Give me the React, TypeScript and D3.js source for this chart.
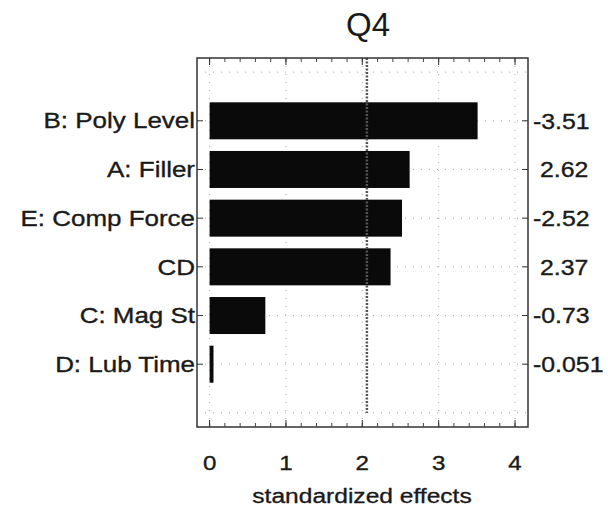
import React from "react";
import * as d3 from "d3";

const categories = ["B: Poly Level", "A: Filler", "E: Comp Force", "CD", "C: Mag St", "D: Lub Time"];
const effects = [3.51, 2.62, 2.52, 2.37, 0.73, 0.051];
const effectLabels = ["-3.51", " 2.62", "-2.52", " 2.37", "-0.73", "-0.051"];
const xTicks = [0, 1, 2, 3, 4];
const criticalValue = 2.06;
const title = "Q4";
const xTitle = "standardized effects";

function SText(props: { x: number; y: number; sx: number; size: number; anchor: string; children: any; dy?: string }) {
  return (
    <text
      transform={`translate(${props.x},${props.y}) scale(${props.sx},1)`}
      dy={props.dy || "0"}
      textAnchor={props.anchor}
      fontSize={props.size}
      fill="#1a1a1a"
      stroke="#1a1a1a"
      strokeWidth={0.35}
      style={{ whiteSpace: "pre" }}
    >
      {props.children}
    </text>
  );
}

export default function App() {
  const left = 197, right = 528, top = 58, bottom = 427;
  const x = d3.scaleLinear().domain([-0.165, 4.17]).range([left, right]);
  const y = d3.scaleLinear().domain([-0.29, 7.29]).range([top, bottom]);
  const barH = y(0.38) - y(0);
  const minor = d3.range(0, 4.01, 0.2);
  const gridY = d3.range(0, 8);
  const font = "Liberation Sans, Arial, sans-serif";
  return (
    <svg width={608} height={512} style={{ position: "absolute", left: 0, top: 0, display: "block" }} fontFamily={font}>
      <rect x={0} y={0} width={608} height={512} fill="#fff" />
      {xTicks.map((t) => (
        <line key={"gx" + t} x1={x(t)} x2={x(t)} y1={top} y2={bottom} stroke="#aaa" strokeWidth={1} strokeDasharray="1,7" />
      ))}
      {gridY.map((g) => (
        <line key={"gy" + g} x1={left} x2={right} y1={y(g)} y2={y(g)} stroke="#aaa" strokeWidth={1} strokeDasharray="1,7" />
      ))}
      {categories.map((c, i) => (
        <rect key={c} x={x(0)} y={y(i + 1) - barH} width={Math.max(2.5, x(effects[i]) - x(0))} height={barH * 2} fill="#0a0a0a" />
      ))}
      <line x1={x(criticalValue)} x2={x(criticalValue)} y1={top} y2={y(7)} stroke="#555" strokeWidth={2.5} strokeDasharray="2,1.5" />
      <rect x={left} y={top} width={right - left} height={bottom - top} fill="none" stroke="#333" strokeWidth={1.5} />
      {minor.map((t) => (
        <g key={"m" + t}>
          <line x1={x(t)} x2={x(t)} y1={bottom} y2={bottom - 4} stroke="#444" />
          <line x1={x(t)} x2={x(t)} y1={top} y2={top + 4} stroke="#444" />
        </g>
      ))}
      {xTicks.map((t) => (
        <g key={"t" + t}>
          <line x1={x(t)} x2={x(t)} y1={bottom} y2={bottom - 7} stroke="#333" />
          <line x1={x(t)} x2={x(t)} y1={top} y2={top + 7} stroke="#333" />
          <SText x={x(t)} y={470} sx={1.15} size={21} anchor="middle">{String(t)}</SText>
        </g>
      ))}
      {categories.map((c, i) => (
        <g key={"l" + c}>
          <line x1={left} x2={left + 6} y1={y(i + 1)} y2={y(i + 1)} stroke="#333" />
          <line x1={right} x2={right - 6} y1={y(i + 1)} y2={y(i + 1)} stroke="#333" />
          <SText x={left - 2} y={y(i + 1)} dy="0.35em" sx={1.18} size={22} anchor="end">{c}</SText>
          <SText x={right + 5} y={y(i + 1)} dy="0.35em" sx={1.13} size={22} anchor="start">{effectLabels[i]}</SText>
        </g>
      ))}
      <text x={368} y={36} textAnchor="middle" fontSize={33} fill="#1a1a1a">{title}</text>
      <SText x={362} y={503} sx={1.17} size={21} anchor="middle">{xTitle}</SText>
    </svg>
  );
}
